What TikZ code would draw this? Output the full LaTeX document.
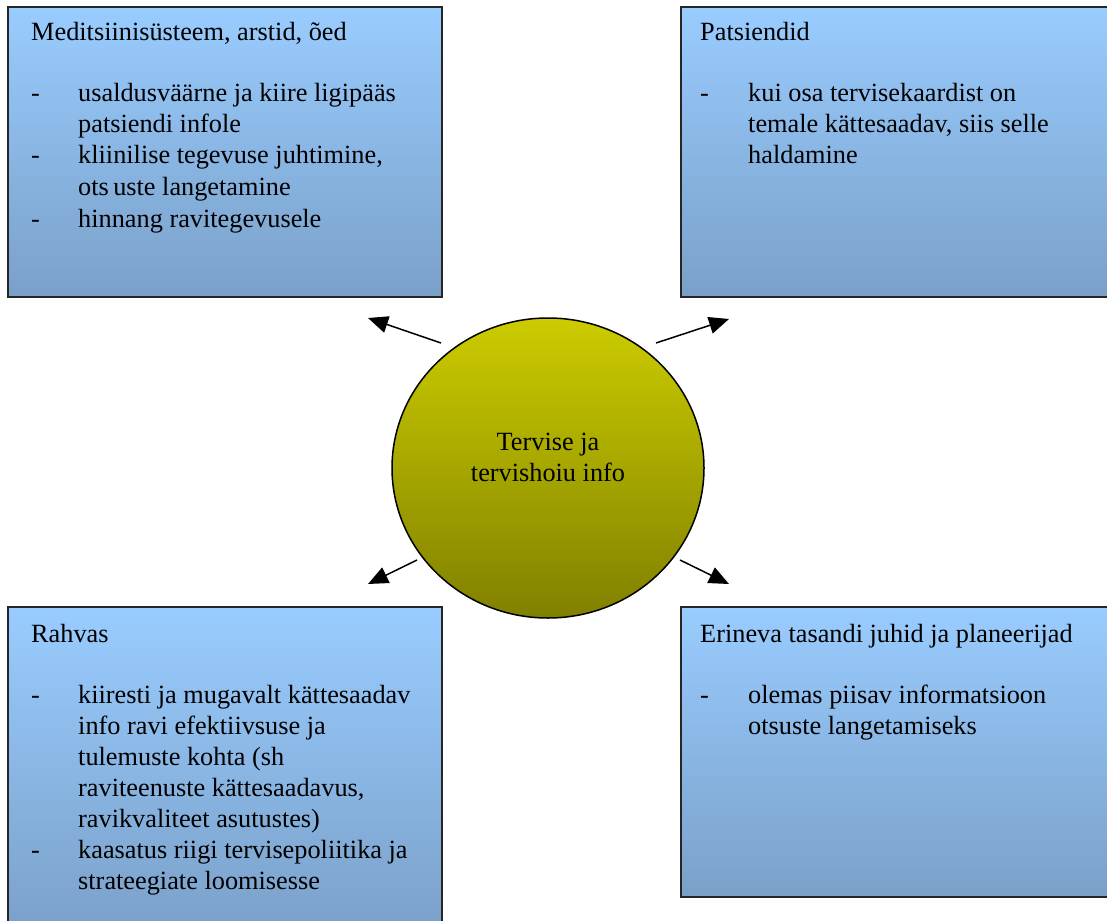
\documentclass[tikz,border=0pt]{standalone}
\usepackage{fontspec}
\setmainfont{Liberation Serif}
\usetikzlibrary{arrows.meta,shapes.geometric}
\definecolor{boxtop}{RGB}{153,204,255}
\definecolor{boxbot}{RGB}{122,160,200}
\definecolor{elltop}{RGB}{204,204,0}
\definecolor{ellbot}{RGB}{128,128,0}
\tikzset{
  infobox/.style={draw=black!85, line width=1.3pt, top color=boxtop, bottom color=boxbot},
  txt/.style={anchor=base west, inner sep=0pt, font=\fontsize{26.3}{31}\selectfont},
  arr/.style={line width=1.5pt, -{Triangle[length=20pt,width=17pt]}},
  hub/.style={ellipse, draw=black, line width=1.5pt, top color=elltop, bottom color=ellbot, minimum width=312pt, minimum height=300pt, inner sep=0pt}
}
\begin{document}
\begin{tikzpicture}[x=1pt,y=-1pt]
\useasboundingbox (0,0) rectangle (1107,920);
\clip (0,0) rectangle (1107,920);
% boxes
\draw[infobox] (8,7) rectangle (442,297);
\draw[infobox] (681,7) rectangle (1120,297);
\draw[infobox] (8,607) rectangle (442,935);
\draw[infobox] (681,607) rectangle (1120,897);
% hub
\node[hub] (hub) at (548,468) {};
\node[align=center, inner sep=0pt, font=\fontsize{26.3}{31}\selectfont] (hubtxt) at (548,457) {Tervise ja\\tervishoiu info};
% top-left text
\node[txt] (t1) at (31,41) {Meditsiinisüsteem, arstid, õed};
\node[txt] (t1d1) at (31,102) {-};
\node[txt] (t1i1a) at (78,102) {usaldusväärne ja kiire ligipääs};
\node[txt] (t1i1b) at (78,133) {patsiendi infole};
\node[txt] (t1d2) at (31,164) {-};
\node[txt] (t1i2a) at (78,164) {kliinilise tegevuse juhtimine,};
\node[txt] (t1i2b) at (78,195) {ots\,uste langetamine};
\node[txt] (t1d3) at (31,227) {-};
\node[txt] (t1i3) at (78,227) {hinnang ravitegevusele};
% top-right text
\node[txt] (t2) at (700,41) {Patsiendid};
\node[txt] (t2d1) at (700,102) {-};
\node[txt] (t2i1a) at (748,102) {kui osa tervisekaardist on};
\node[txt] (t2i1b) at (748,133) {temale kättesaadav, siis selle};
\node[txt] (t2i1c) at (748,164) {haldamine};
% bottom-left text
\node[txt] (t3) at (31,642) {Rahvas};
\node[txt] (t3d1) at (31,703) {-};
\node[txt] (t3i1a) at (78,703) {kiiresti ja mugavalt kättesaadav};
\node[txt] (t3i1b) at (78,734) {info ravi efektiivsuse ja};
\node[txt] (t3i1c) at (78,765) {tulemuste kohta (sh};
\node[txt] (t3i1d) at (78,796) {raviteenuste kättesaadavus,};
\node[txt] (t3i1e) at (78,827) {ravikvaliteet asutustes)};
\node[txt] (t3d2) at (31,858) {-};
\node[txt] (t3i2a) at (78,858) {kaasatus riigi tervisepoliitika ja};
\node[txt] (t3i2b) at (78,889) {strateegiate loomisesse};
% bottom-right text
\node[txt] (t4) at (700,642) {Erineva tasandi juhid ja planeerijad};
\node[txt] (t4d1) at (700,703) {-};
\node[txt] (t4i1a) at (748,703) {olemas piisav informatsioon};
\node[txt] (t4i1b) at (748,734) {otsuste langetamiseks};
% arrows
\coordinate (a1s) at (441,343); \coordinate (a1e) at (368,318);
\coordinate (a2s) at (656,343); \coordinate (a2e) at (729,319);
\coordinate (a3s) at (417,560); \coordinate (a3e) at (368,584);
\coordinate (a4s) at (680,560); \coordinate (a4e) at (729,584);
\draw[arr] (a1s) -- (a1e);
\draw[arr] (a2s) -- (a2e);
\draw[arr] (a3s) -- (a3e);
\draw[arr] (a4s) -- (a4e);
\end{tikzpicture}
\end{document}
